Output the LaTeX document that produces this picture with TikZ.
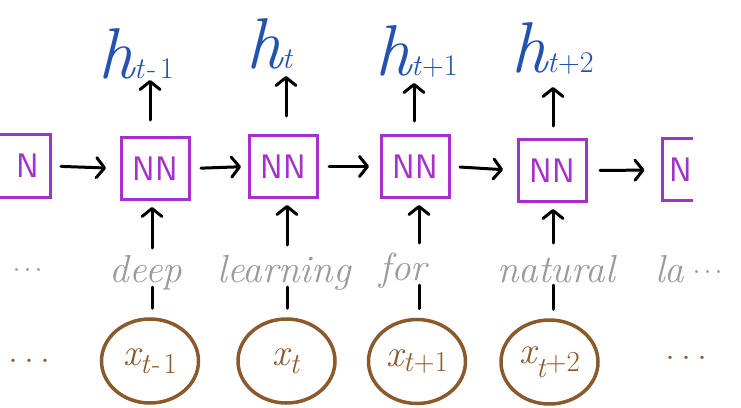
\documentclass[tikz,border=0pt]{standalone}
\usepackage{fontspec}
\usetikzlibrary{arrows.meta,shapes.geometric}
\definecolor{hblue}{HTML}{2352B0}
\definecolor{nnpurple}{HTML}{A431C8}
\definecolor{xbrown}{HTML}{8A5A2C}
\definecolor{wgrey}{HTML}{9B9B9B}
\newcommand{\hlab}[1]{{\fontsize{72}{72}\selectfont\itshape h}{\fontsize{30}{30}\selectfont #1}}
\newcommand{\xlab}[2]{{\fontsize{38}{38}\selectfont\itshape x}\raisebox{#1}{\fontsize{29}{29}\selectfont #2}}
\tikzset{
  nnbox/.style={draw=nnpurple, line width=3pt, minimum width=68pt, minimum height=62pt,
    inner sep=0pt, text=nnpurple, font=\sffamily\fontsize{34}{34}\selectfont},
  nntext/.style={inner sep=0pt, text=nnpurple, font=\sffamily\fontsize{34}{34}\selectfont},
  nnframe/.style={draw=nnpurple, line width=3pt},
  hnode/.style={text=hblue, inner sep=0pt, anchor=base west},
  xnode/.style={draw=xbrown, ellipse, line width=3.5pt, minimum width=97pt, minimum height=84pt,
    inner sep=0pt, text=xbrown},
  word/.style={text=wgrey, inner sep=0pt, anchor=base, font=\fontsize{39}{39}\selectfont\itshape},
  arr/.style={draw=black, line width=3pt, line cap=round, -{Straight Barb[length=8pt,width=20pt,round]}},
  conn/.style={draw=black, line width=3pt, line cap=round},
}
\begin{document}
\begin{tikzpicture}[x=1pt,y=-1pt]
\useasboundingbox (0,0) rectangle (741,407);
\fill[white] (0,0) rectangle (741,407);

% partial NN boxes at the edges
\draw[nnframe] (0,134.5) -- (50,134.5) -- (50,197.5) -- (0,197.5);
\node[nntext] (b0) at (28,166) {N};
\coordinate (e0) at (50,166);
\draw[nnframe] (693,138.5) -- (662.5,138.5) -- (662.5,200.5) -- (693,200.5);
\node[nntext] (b5) at (681,170) {N};
\coordinate (e5) at (662.5,170);

% NN boxes
\node[nnbox] (b1) at (155.5,168.5) {NN};
\node[nnbox] (b2) at (283.5,166.5) {NN};
\node[nnbox] (b3) at (415.5,166.5) {NN};
\node[nnbox] (b4) at (552.5,170.5) {NN};

% horizontal arrows
\draw[arr, shorten <=11pt, shorten >=14pt] (e0) -- (b1.west);
\draw[arr, shorten <=10pt, shorten >=7pt] (b1.east) -- (b2.west);
\draw[arr, shorten <=10pt, shorten >=11pt] (b2.east) -- (b3.west);
\draw[arr, shorten <=9pt, shorten >=14pt] (b3.east) -- (b4.west);
\draw[arr, shorten <=12pt, shorten >=18pt] (b4.east) -- (e5);

% h labels
\node[hnode] (h1) at (98,78) {\hlab{\textit{t}\kern2pt-\kern4pt1}};
\node[hnode] (h2) at (246,68) {\hlab{\textit{t}}};
\node[hnode] (h3) at (375,75) {\hlab{\textit{t}+1}};
\node[hnode] (h4) at (511,72) {\hlab{\textit{t}+2}};

% arrows up to h
\coordinate (t1) at (150,80);
\coordinate (t2) at (286,76);
\coordinate (t3) at (414,83);
\coordinate (t4) at (553,87);
\draw[arr, shorten <=16pt] (t1 |- b1.north) -- (t1);
\draw[arr, shorten <=18pt] (t2 |- b2.north) -- (t2);
\draw[arr, shorten <=13pt] (t3 |- b3.north) -- (t3);
\draw[arr, shorten <=12pt] (t4 |- b4.north) -- (t4);

% words
\node[word] (w1) at (146,282) {deep};
\node[word] (w2) at (284,282) {learning};
\node[word] (w3) at (403,280) {for};
\node[word] (w4) at (556,282) {natural};
\node[word, anchor=base west] (w5) at (655,282) {la\kern8pt\raisebox{9pt}{\fontsize{36}{36}\selectfont\upshape .\kern2pt.\kern2pt.}};
\node[text=wgrey, inner sep=0pt, anchor=base, font=\fontsize{36}{36}\selectfont] (dl) at (28,271) {.\kern2pt.\kern2pt.};

% x circles
\node[xnode] (c1) at (150,361) {\xlab{-8pt}{\textit{t}\kern1pt-\kern3pt1}};
\node[xnode] (c2) at (286.5,361) {\xlab{-8pt}{\textit{t}}};
\node[xnode] (c3) at (417,361.5) {\xlab{-5pt}{\textit{t}+1}};
\node[xnode] (c4) at (549.5,362) {{\fontsize{38}{38}\selectfont\itshape x}\raisebox{-14pt}{\fontsize{29}{29}\selectfont\itshape t}\raisebox{-8pt}{\fontsize{29}{29}\selectfont +2}};

% brown dots
\node[text=xbrown, inner sep=0pt, anchor=base, font=\fontsize{40}{40}\selectfont] (dbl) at (30,362) {.\kern6pt.\kern6pt.};
\node[text=xbrown, inner sep=0pt, anchor=base, font=\fontsize{40}{40}\selectfont] (dbr) at (686,359) {.\kern6pt.\kern6pt.};

% connectors from x to NN
\coordinate (m1) at (152,287); \coordinate (n1) at (152,248);
\coordinate (m2) at (287,287); \coordinate (n2) at (287,245);
\coordinate (m3) at (419,285); \coordinate (n3) at (419,243);
\coordinate (m4) at (553,285); \coordinate (n4) at (553,243);
\draw[conn, shorten <=9pt] (m1 |- c1.north) -- (m1);
\draw[conn, shorten <=9pt] (m2 |- c2.north) -- (m2);
\draw[conn, shorten <=9pt] (m3 |- c3.north) -- (m3);
\draw[conn, shorten <=9pt] (m4 |- c4.north) -- (m4);
\draw[arr, shorten >=6pt] (n1) -- (n1 |- b1.south);
\draw[arr, shorten >=6pt] (n2) -- (n2 |- b2.south);
\draw[arr, shorten >=6pt] (n3) -- (n3 |- b3.south);
\draw[arr, shorten >=6pt] (n4) -- (n4 |- b4.south);
\end{tikzpicture}
\end{document}
